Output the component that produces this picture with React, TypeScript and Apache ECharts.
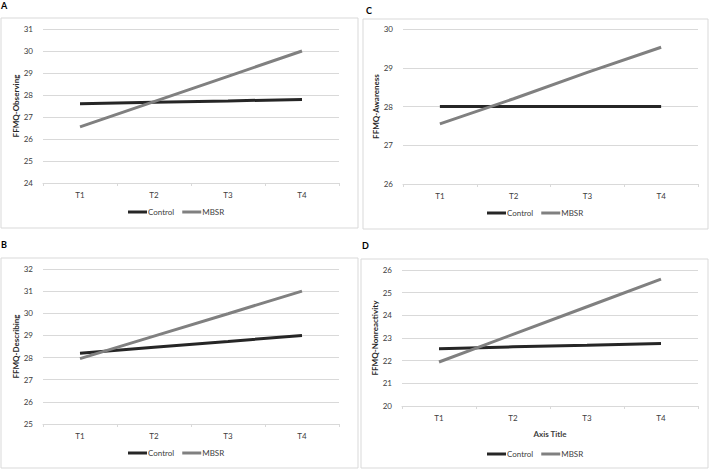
import React, { useEffect, useRef } from "react";
import * as echarts from "echarts";

const categories = ["T1", "T2", "T3", "T4"];

const controlA = [27.6, 27.67, 27.73, 27.8];
const mbsrA = [26.55, 27.7, 28.85, 30.0];
const controlC = [28.0, 28.0, 28.0, 28.0];
const mbsrC = [27.55, 28.2, 28.88, 29.53];
const controlB = [28.2, 28.47, 28.73, 29.0];
const mbsrB = [27.95, 28.97, 29.98, 31.0];
const controlD = [22.53, 22.61, 22.68, 22.76];
const mbsrD = [21.94, 23.16, 24.38, 25.6];

const yNames = ["FFMQ-Observing", "FFMQ-Awareness", "FFMQ-Describing", "FFMQ-Nonreactivity"];
const yMin = [24, 26, 25, 20];
const yMax = [31, 30, 32, 26];
const panelLetters = ["A", "C", "B", "D"];
const seriesNames = ["Control", "MBSR"];

const FONT = "Lato, 'Liberation Sans', sans-serif";
const CONTROL_COLOR = "#262626";
const MBSR_COLOR = "#808080";
const GRID_COLOR = "#d9d9d9";

export default function App() {
  const ref = useRef<HTMLDivElement>(null);
  useEffect(() => {
    if (!ref.current) return;
    const chart = echarts.init(ref.current, null, { renderer: "svg" });
    const grids = [
      { left: 43, top: 29, width: 296, height: 154 },
      { left: 403, top: 29, width: 295, height: 155 },
      { left: 43, top: 269, width: 296, height: 155 },
      { left: 402, top: 270, width: 296, height: 136 },
    ];
    const frames = [
      { x: 1, y: 18, width: 357, height: 210 },
      { x: 363, y: 19, width: 345, height: 210 },
      { x: 1, y: 258, width: 357, height: 210 },
      { x: 361, y: 259, width: 347, height: 209 },
    ];
    const letterPos = [
      [1, 5],
      [366, 10],
      [1, 244],
      [362, 245],
    ];
    const legendPos = [
      [128, 213],
      [487, 214],
      [128, 454],
      [487, 455],
    ];
    const controls = [controlA, controlC, controlB, controlD];
    const mbsrs = [mbsrA, mbsrC, mbsrB, mbsrD];

    const xAxes = grids.map((_, i) => ({
      type: "category",
      gridIndex: i,
      data: categories,
      boundaryGap: true,
      axisLine: { lineStyle: { color: GRID_COLOR, width: 1 } },
      axisTick: { show: true, length: 3, lineStyle: { color: GRID_COLOR } },
      axisLabel: { fontFamily: FONT, fontSize: 8, color: "#404040", margin: 8 },
      name: i === 3 ? "Axis Title" : "",
      nameLocation: "middle",
      nameGap: 24,
      nameTextStyle: { fontFamily: FONT, fontSize: 8, fontWeight: "bold", color: "#404040" },
    }));
    const yAxes = grids.map((_, i) => ({
      type: "value",
      gridIndex: i,
      min: yMin[i],
      max: yMax[i],
      interval: 1,
      axisLine: { show: false },
      axisTick: { show: false },
      splitLine: { lineStyle: { color: GRID_COLOR, width: 1 } },
      axisLabel: { fontFamily: FONT, fontSize: 8, color: "#404040", margin: 10 },
      name: yNames[i],
      nameLocation: "middle",
      nameRotate: 90,
      nameGap: 22,
      nameTextStyle: { fontFamily: FONT, fontSize: 8, fontWeight: "bold", color: "#262626" },
    }));
    const series: any[] = [];
    grids.forEach((_, i) => {
      series.push({
        type: "line",
        name: seriesNames[0],
        xAxisIndex: i,
        yAxisIndex: i,
        data: controls[i],
        symbol: "none",
        lineStyle: { color: CONTROL_COLOR, width: 3 },
        itemStyle: { color: CONTROL_COLOR },
      });
      series.push({
        type: "line",
        name: seriesNames[1],
        xAxisIndex: i,
        yAxisIndex: i,
        data: mbsrs[i],
        symbol: "none",
        lineStyle: { color: MBSR_COLOR, width: 3 },
        itemStyle: { color: MBSR_COLOR },
      });
    });
    const legends = legendPos.map(([x, y]) => ({
      left: x,
      top: y - 5,
      padding: 0,
      icon: "rect",
      itemWidth: 19,
      itemHeight: 3,
      itemGap: 8,
      data: seriesNames,
      textStyle: { fontFamily: FONT, fontSize: 8, color: "#404040", padding: [0, 0, 0, -4] },
    }));
    const graphic: any[] = [];
    frames.forEach((f) => {
      graphic.push({
        type: "rect",
        shape: f,
        style: { fill: "none", stroke: GRID_COLOR, lineWidth: 1 },
        silent: true,
        z: -1,
      });
    });
    letterPos.forEach(([x, y], i) => {
      graphic.push({
        type: "text",
        x,
        y,
        style: {
          text: panelLetters[i],
          fontFamily: FONT,
          fontSize: 9,
          fontWeight: "bold",
          fill: "#000",
          textVerticalAlign: "middle",
        },
      });
    });
    chart.setOption({
      animation: false,
      backgroundColor: "#ffffff",
      grid: grids,
      xAxis: xAxes,
      yAxis: yAxes,
      series,
      legend: legends,
      graphic,
    });
    return () => chart.dispose();
  }, []);
  return (
    <div
      ref={ref}
      style={{ position: "fixed", left: 0, top: 0, width: 709, height: 470 }}
    />
  );
}
